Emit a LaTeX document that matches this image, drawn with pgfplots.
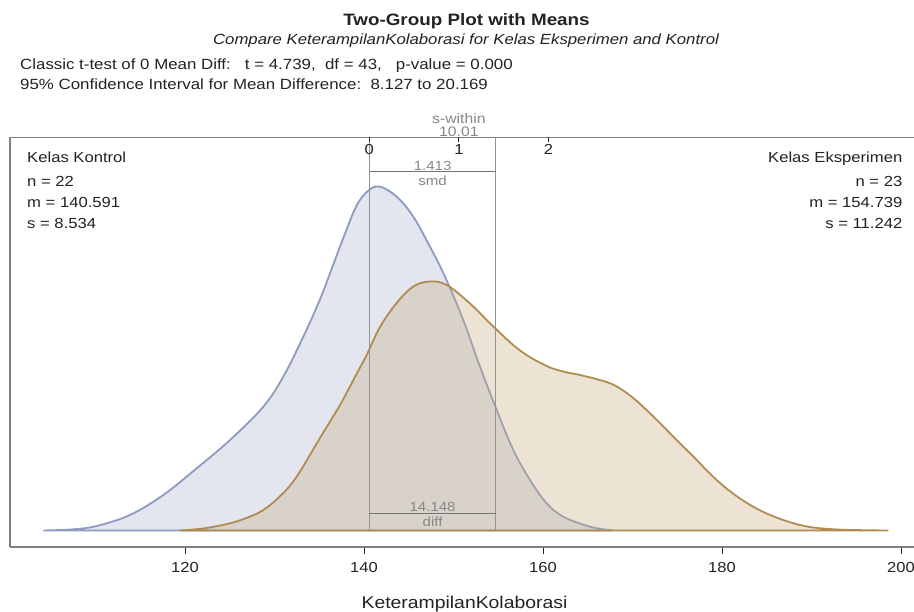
\documentclass[border=0pt]{standalone}
\usepackage{pgfplots}
\pgfplotsset{compat=1.18}
\usepackage{fontspec}
\setmainfont{Liberation Sans}[FakeStretch=1.14]

\definecolor{blueline}{RGB}{140,155,192}
\definecolor{bluefill}{RGB}{227,230,239}
\definecolor{tanline}{RGB}{176,140,80}
\definecolor{tanbase}{RGB}{201,175,135}
\definecolor{framecol}{RGB}{128,128,128}
\definecolor{meancol}{RGB}{150,146,144}
\definecolor{labgray}{RGB}{135,135,135}
\definecolor{txt}{RGB}{34,34,34}

\newcommand{\fs}[1]{\fontsize{#1}{#1}\selectfont}

% density of Kelas Kontrol (y in pixel-like units above the baseline)
\pgfplotstableread{
x y
104.17 0
107.52 1.2
110.13 4.5
113.85 15.5
117.58 35.5
121.31 62.2
125.03 90.5
128.75 123.8
130.98 153.8
133.22 193.8
135.08 231
136.57 266
137.80 295
139.18 325
140.50 340
141.79 343.8
143.65 333.8
145.51 313.8
147.37 283.8
149.05 253.8
151.09 210.5
152.96 163.8
154.83 120.5
156.68 80.5
158.55 50.5
160.41 27.2
162.27 13.8
165.25 3.8
167.85 0
}\kontrol

% density of Kelas Eksperimen
\pgfplotstableread{
x y
119.44 0
122.20 2.2
125.03 7.2
127.00 13
128.75 20.5
130.70 35
132.48 53.8
135.08 92.5
137.32 125.5
139.11 155.5
140.30 175.5
141.79 203.5
143.65 227.5
145.51 244
147.37 249
149.24 245.5
151.84 227
154.45 204
157.43 180
160.41 164.5
162.50 158.5
164.13 155.5
166.73 149.5
168.23 144
170.08 132.5
172.32 114
174.93 90.5
176.79 74
179.40 50.5
182.01 32
184.99 17
188.72 5.5
192.44 1.2
198.58 0
}\eksperimen

\begin{document}
\begin{tikzpicture}[x=1pt,y=1pt,every node/.style={inner sep=0pt,text=txt}]
\path[use as bounding box] (0,0) rectangle (914,612);

\node[anchor=base,font=\bfseries\fs{16.5}] at (466.5,586) {Two-Group Plot with Means};
\node[anchor=base,font=\itshape\fs{14.7}] at (466,567) {Compare KeterampilanKolaborasi for Kelas Eksperimen and Kontrol};
\node[anchor=base west,font=\fs{14.8}] at (20,542) {Classic t-test of 0 Mean Diff:\ \ \ t = 4.739,\ \ df = 43,\ \ \ p-value = 0.000};
\node[anchor=base west,font=\fs{14.8}] at (20,522) {95\% Confidence Interval for Mean Difference:\ \ 8.127 to 20.169};

\node[anchor=base west,font=\fs{14.6}] at (27,449) {Kelas Kontrol};
\node[anchor=base west,font=\fs{14.6}] at (27,425.5) {n = 22};
\node[anchor=base west,font=\fs{14.6}] at (27,404) {m = 140.591};
\node[anchor=base west,font=\fs{14.6}] at (27,383) {s = 8.534};
\node[anchor=base east,font=\fs{14.6}] at (902.5,449) {Kelas Eksperimen};
\node[anchor=base east,font=\fs{14.6}] at (902.5,425.5) {n = 23};
\node[anchor=base east,font=\fs{14.6}] at (902.5,404) {m = 154.739};
\node[anchor=base east,font=\fs{14.6}] at (902.5,383) {s = 11.242};

\node[anchor=base,font=\fs{17}] at (464.5,3) {KeterampilanKolaborasi};

\begin{axis}[
  at={(10pt,65pt)}, anchor=south west,
  scale only axis, width=904pt, height=409.7pt,
  xmin=100.45, xmax=201.45, ymin=-16.5, ymax=393.2,
  axis x line*=bottom, axis y line=none,
  axis line style={-, draw=framecol, line width=1.1pt},
  xtick={120,140,160,180,200},
  tick align=outside, major tick length=7pt,
  xtick style={draw=txt, line width=0.8pt},
  /pgf/number format/assume math mode=true,
  tick label style={font=\fs{14.5}, text=txt, yshift=-8pt},
  clip=false,
]
\draw[framecol, line width=1.1pt] (rel axis cs:0,0) -- (rel axis cs:0,1) -- (rel axis cs:1,1);

\addplot[draw=blueline, line width=1.8pt, fill=bluefill, smooth, tension=0.6]
  table[x=x,y=y] {\kontrol} \closedcycle;
\addplot[draw=tanline, line width=1.8pt, fill=tanbase, fill opacity=0.35, smooth, tension=0.6]
  table[x=x,y=y] {\eksperimen} \closedcycle;

% mean lines
\addplot[meancol, line width=0.9pt] coordinates {(140.591,0) (140.591,393.2)};
\addplot[meancol, line width=0.9pt] coordinates {(154.739,0) (154.739,393.2)};
% smd and diff bars
\addplot[labgray!85!black, line width=1pt] coordinates {(140.591,358.8) (154.739,358.8)};
\addplot[labgray!85!black, line width=1pt] coordinates {(140.591,17.2) (154.739,17.2)};
% s-within scale ticks
\addplot[txt, line width=0.8pt] coordinates {(140.591,393.2) (140.591,388.5)};
\addplot[txt, line width=0.8pt] coordinates {(150.601,393.2) (150.601,388.5)};
\addplot[txt, line width=0.8pt] coordinates {(160.611,393.2) (160.611,388.5)};

\node[anchor=base,font=\fs{14.5}] at (axis cs:140.591,375.5) {0};
\node[anchor=base,font=\fs{14.5}] at (axis cs:150.601,375.5) {1};
\node[anchor=base,font=\fs{14.5}] at (axis cs:160.611,375.5) {2};
\node[anchor=base,font=\fs{13.8},text=labgray] at (axis cs:150.601,406.5) {s-within};
\node[anchor=base,font=\fs{13.8},text=labgray] at (axis cs:150.601,393.5) {10.01};
\node[anchor=base,font=\fs{13.2},text=labgray] at (axis cs:147.665,360.3) {1.413};
\node[anchor=base,font=\fs{13.2},text=labgray] at (axis cs:147.665,344.5) {smd};
\node[anchor=base,font=\fs{13.2},text=labgray] at (axis cs:147.665,18.7) {14.148};
\node[anchor=base,font=\fs{13.2},text=labgray] at (axis cs:147.665,3.8) {diff};
\end{axis}
\end{tikzpicture}
\end{document}
